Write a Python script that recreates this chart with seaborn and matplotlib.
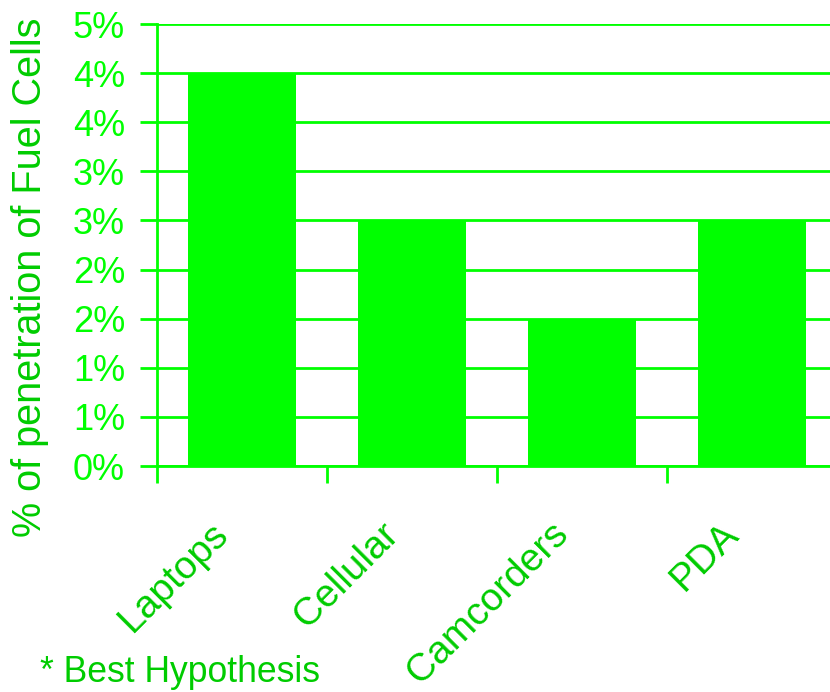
import numpy as np
import matplotlib
matplotlib.use("Agg")
import matplotlib.pyplot as plt
import matplotlib.transforms as mtransforms
from matplotlib.ticker import FuncFormatter, FixedLocator
import pandas as pd
import seaborn as sns

# Data
categories = ["Laptops", "Cellular", "Camcorders", "PDA"]
penetration = [0.04, 0.025, 0.015, 0.025]

BRIGHT = "#00FF00"
DARK = "#00CC00"

sns.set_theme(style="white")
plt.rcParams["font.family"] = ["Liberation Sans", "DejaVu Sans"]

df = pd.DataFrame({"device": categories, "share": penetration})

fig = plt.figure(figsize=(8.3, 6.92), dpi=100)
ax = fig.add_axes([157 / 830, 1 - 466 / 692, 680 / 830, 442 / 692])

sns.barplot(data=df, x="device", y="share", color=BRIGHT, saturation=1,
            width=0.63, edgecolor="none", ax=ax, zorder=3)

# Value axis: half-percent steps, labels rounded to whole percent
ax.set_ylim(0, 0.045)
ax.yaxis.set_major_locator(FixedLocator(np.arange(0, 0.0451, 0.005)))
ax.yaxis.set_major_formatter(
    FuncFormatter(lambda v, _: f"{int(np.floor(v * 100 + 0.5 + 1e-9))}%"))
ax.grid(axis="y", color=BRIGHT, linewidth=2, zorder=0)
ax.set_axisbelow(True)

ax.set_xlim(-0.5, 3.5)
for side in ("top", "right"):
    ax.spines[side].set_visible(False)
for side in ("left", "bottom"):
    ax.spines[side].set_color(BRIGHT)
    ax.spines[side].set_linewidth(2)

ax.tick_params(axis="y", which="major", direction="out", length=12, width=2,
               color=BRIGHT, labelcolor=BRIGHT, labelsize=26, pad=11, left=True)

# Category separators on the bottom axis
ax.set_xticks(np.arange(-0.5, 4.0, 1.0), minor=True)
ax.tick_params(axis="x", which="minor", direction="out", length=12, width=2,
               color=BRIGHT, bottom=True)
ax.tick_params(axis="x", which="major", length=0, labelsize=28,
               labelcolor=DARK, pad=45)
ax.set_xticks(range(len(categories)))
ax.set_xticklabels(categories, rotation=45, ha="right",
                   rotation_mode="anchor", va="center")
offset = mtransforms.ScaledTranslation(-19 / 100, 0, fig.dpi_scale_trans)
for lab in ax.get_xticklabels():
    lab.set_transform(lab.get_transform() + offset)

ax.set_xlabel("")
ax.set_ylabel("")
fig.text(30 / 830, 1 - 277 / 692, "% of penetration of Fuel Cells",
         rotation=90, ha="center", va="center", fontsize=28.5, color=DARK)
fig.text(40 / 830, 1 - 682 / 692, "* Best Hypothesis", ha="left",
         va="baseline", fontsize=25.6, color=DARK)

fig.savefig("out.png", dpi=100, facecolor="white")
